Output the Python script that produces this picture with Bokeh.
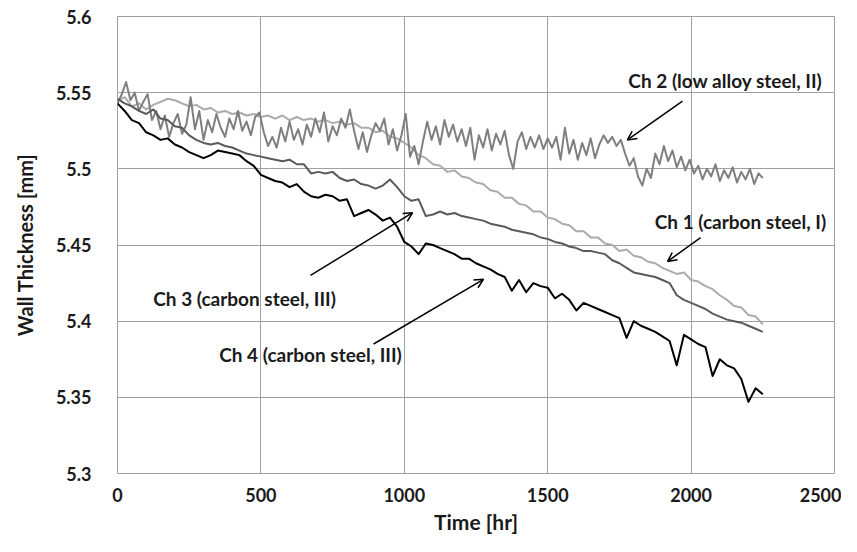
from bokeh.plotting import figure
from bokeh.models import Range1d, FixedTicker, Label, Arrow, OpenHead
from bokeh.embed import file_html
from bokeh.resources import INLINE

# ---------------- data ----------------
time_hr = [0, 25, 50, 75, 100, 125, 150, 175, 200, 225, 250, 275, 300, 325, 350, 375,
           400, 425, 450, 475, 500, 525, 550, 575, 600, 625, 650, 675, 700, 725, 750, 775,
           800, 825, 850, 875, 900, 925, 950, 975, 1000, 1025, 1050, 1075, 1100, 1125, 1150,
           1175, 1200, 1225, 1250, 1275, 1300, 1325, 1350, 1375, 1400, 1425, 1450, 1475,
           1500, 1525, 1550, 1575, 1600, 1625, 1650, 1675, 1700, 1725, 1750, 1775, 1800,
           1825, 1850, 1875, 1900, 1925, 1950, 1975, 2000, 2025, 2050, 2075, 2100, 2125,
           2150, 2175, 2200, 2225, 2250]

ch1 = [5.545, 5.547, 5.541, 5.543, 5.539, 5.542, 5.544, 5.546, 5.545, 5.543, 5.541, 5.542,
       5.539, 5.540, 5.537, 5.538, 5.536, 5.537, 5.535, 5.536, 5.534, 5.535, 5.533, 5.535,
       5.532, 5.534, 5.532, 5.533, 5.531, 5.532, 5.530, 5.531, 5.529, 5.530, 5.527, 5.527,
       5.524, 5.525, 5.521, 5.520, 5.517, 5.514, 5.509, 5.507, 5.503, 5.502, 5.498, 5.499,
       5.495, 5.494, 5.491, 5.490, 5.486, 5.485, 5.481, 5.481, 5.477, 5.476, 5.472, 5.472,
       5.468, 5.467, 5.464, 5.463, 5.459, 5.459, 5.455, 5.455, 5.451, 5.450, 5.446, 5.447,
       5.443, 5.442, 5.439, 5.438, 5.435, 5.433, 5.431, 5.432, 5.427, 5.426, 5.423, 5.421,
       5.417, 5.414, 5.410, 5.409, 5.404, 5.403, 5.398]

# Ch 2 is very noisy: it has its own, denser time base
time_ch2 = [0, 15, 30, 45, 60, 75, 90, 105, 120, 135,
            150, 165, 180, 195, 210, 225, 240, 255, 270, 285,
            300, 315, 330, 345, 360, 375, 390, 405, 420, 435,
            450, 465, 480, 495, 510, 525, 540, 555, 570, 585,
            600, 615, 630, 645, 660, 675, 690, 705, 720, 735,
            750, 765, 780, 795, 810, 825, 840, 855, 870, 885,
            900, 915, 930, 945, 960, 975, 990, 1005, 1020, 1035,
            1050, 1065, 1080, 1095, 1110, 1125, 1140, 1155, 1170, 1185,
            1200, 1215, 1230, 1245, 1260, 1275, 1290, 1305, 1320, 1335,
            1350, 1365, 1380, 1395, 1410, 1425, 1440, 1455, 1470, 1485,
            1500, 1515, 1530, 1545, 1560, 1575, 1590, 1605, 1620, 1635,
            1650, 1665, 1680, 1695, 1710, 1725, 1740, 1755, 1770, 1785,
            1800, 1815, 1830, 1845, 1860, 1875, 1890, 1905, 1920, 1935,
            1950, 1965, 1980, 1995, 2010, 2025, 2040, 2055, 2070, 2085,
            2100, 2115, 2130, 2145, 2160, 2175, 2190, 2205, 2220, 2235,
            2250]

ch2 = [5.543, 5.549, 5.557, 5.545, 5.550, 5.538, 5.544, 5.549, 5.532, 5.538,
       5.526, 5.535, 5.521, 5.530, 5.536, 5.523, 5.529, 5.547, 5.526, 5.538,
       5.519, 5.532, 5.524, 5.536, 5.527, 5.521, 5.533, 5.526, 5.538, 5.525,
       5.531, 5.522, 5.534, 5.537, 5.524, 5.515, 5.521, 5.514, 5.527, 5.518,
       5.531, 5.519, 5.526, 5.516, 5.529, 5.521, 5.533, 5.524, 5.537, 5.518,
       5.528, 5.522, 5.533, 5.527, 5.539, 5.525, 5.513, 5.524, 5.511, 5.522,
       5.530, 5.525, 5.533, 5.516, 5.526, 5.512, 5.522, 5.536, 5.508, 5.515,
       5.503, 5.518, 5.531, 5.519, 5.528, 5.516, 5.532, 5.521, 5.529, 5.518,
       5.526, 5.515, 5.527, 5.506, 5.522, 5.514, 5.526, 5.512, 5.523, 5.516,
       5.525, 5.509, 5.500, 5.518, 5.524, 5.513, 5.521, 5.514, 5.522, 5.513,
       5.520, 5.514, 5.521, 5.506, 5.527, 5.510, 5.519, 5.506, 5.517, 5.509,
       5.520, 5.507, 5.516, 5.522, 5.517, 5.521, 5.515, 5.519, 5.510, 5.502,
       5.507, 5.495, 5.489, 5.500, 5.494, 5.510, 5.503, 5.515, 5.505, 5.512,
       5.501, 5.508, 5.499, 5.506, 5.497, 5.502, 5.493, 5.500, 5.495, 5.503,
       5.492, 5.499, 5.494, 5.501, 5.491, 5.498, 5.493, 5.500, 5.490, 5.497,
       5.494]

ch3 = [5.546, 5.543, 5.541, 5.538, 5.536, 5.539, 5.533, 5.532, 5.528, 5.527, 5.522, 5.519,
       5.517, 5.516, 5.517, 5.515, 5.514, 5.512, 5.510, 5.509, 5.508, 5.507, 5.506, 5.505,
       5.506, 5.503, 5.503, 5.497, 5.498, 5.497, 5.498, 5.494, 5.492, 5.493, 5.490, 5.489,
       5.487, 5.489, 5.493, 5.488, 5.482, 5.479, 5.480, 5.469, 5.470, 5.472, 5.470, 5.471,
       5.469, 5.468, 5.467, 5.466, 5.464, 5.463, 5.462, 5.460, 5.459, 5.458, 5.457, 5.455,
       5.454, 5.452, 5.451, 5.449, 5.448, 5.446, 5.446, 5.445, 5.444, 5.440, 5.438, 5.435,
       5.432, 5.431, 5.430, 5.429, 5.427, 5.425, 5.417, 5.414, 5.412, 5.410, 5.408, 5.405,
       5.403, 5.401, 5.400, 5.399, 5.397, 5.395, 5.393]

ch4 = [5.543, 5.538, 5.532, 5.530, 5.524, 5.522, 5.519, 5.520, 5.516, 5.514, 5.511, 5.509,
       5.507, 5.509, 5.512, 5.511, 5.510, 5.509, 5.505, 5.502, 5.496, 5.494, 5.492, 5.491,
       5.488, 5.490, 5.485, 5.482, 5.481, 5.483, 5.482, 5.479, 5.480, 5.469, 5.471, 5.473,
       5.470, 5.466, 5.468, 5.462, 5.452, 5.449, 5.444, 5.451, 5.450, 5.448, 5.446, 5.444,
       5.441, 5.441, 5.438, 5.436, 5.434, 5.431, 5.429, 5.420, 5.427, 5.419, 5.425, 5.423,
       5.422, 5.415, 5.418, 5.414, 5.407, 5.412, 5.410, 5.408, 5.406, 5.404, 5.402, 5.389,
       5.400, 5.397, 5.395, 5.393, 5.390, 5.387, 5.371, 5.391, 5.388, 5.385, 5.383, 5.364,
       5.375, 5.371, 5.369, 5.362, 5.347, 5.356, 5.352]

series_names = ["Ch 1 (carbon steel, I)", "Ch 2 (low alloy steel, II)",
                "Ch 3 (carbon steel, III)", "Ch 4 (carbon steel, III)"]
series_colors = ["#ababab", "#7f7f7f", "#5a5a5a", "#000000"]

x_ticks = [0, 500, 1000, 1500, 2000, 2500]
x_tick_labels = ["0", "500", "1000", "1500", "2000", "2500"]
y_ticks = [5.3, 5.35, 5.4, 5.45, 5.5, 5.55, 5.6]
y_tick_labels = ["5.3", "5.35", "5.4", "5.45", "5.5", "5.55", "5.6"]

FONT = "Lato"

p = figure(width=841, height=536, output_backend="svg", toolbar_location=None,
           x_range=Range1d(0, 2500), y_range=Range1d(5.3, 5.6),
           min_border_left=117, min_border_top=16, min_border_right=7, min_border_bottom=61)

p.outline_line_color = "#a0a0a0"
p.outline_line_width = 1
p.background_fill_color = "white"
p.border_fill_color = "white"

for ax in (p.xaxis[0], p.yaxis[0]):
    ax.axis_line_color = None
    ax.major_tick_line_color = None
    ax.minor_tick_line_color = None
    ax.major_label_text_font = FONT
    ax.major_label_text_font_style = "bold"
    ax.major_label_text_font_size = "18px"
    ax.major_label_text_color = "#1a1a1a"
    ax.axis_label_text_font = FONT
    ax.axis_label_text_font_style = "bold"
    ax.axis_label_text_color = "#1a1a1a"

p.xaxis.axis_label_text_font_size = "21px"
p.yaxis.axis_label_text_font_size = "20px"
p.xaxis.ticker = FixedTicker(ticks=x_ticks)
p.xaxis.major_label_overrides = {t: l for t, l in zip(x_ticks, x_tick_labels)}
p.yaxis.ticker = FixedTicker(ticks=y_ticks)
p.yaxis.major_label_overrides = {t: l for t, l in zip(y_ticks, y_tick_labels)}
p.xaxis.axis_label = "Time [hr]"
p.yaxis.axis_label = "Wall Thickness [mm]"
p.xaxis.major_label_standoff = 8
p.xaxis.axis_label_standoff = 4
p.yaxis.major_label_standoff = 20
p.yaxis.axis_label_standoff = 16

p.xgrid.ticker = FixedTicker(ticks=x_ticks)
p.ygrid.ticker = FixedTicker(ticks=y_ticks)
p.grid.grid_line_color = "#a0a0a0"
p.grid.grid_line_width = 1

for tt, vals, col in zip([time_hr, time_ch2, time_hr, time_hr], [ch1, ch2, ch3, ch4],
                         series_colors):
    p.line(tt, vals, line_color=col, line_width=2, line_join="round")

# annotations (label position, arrow tail, arrow head) in data units
annots = [
    (series_names[1], 2120, 5.558, (1970, 5.5444), (1778, 5.519)),
    (series_names[0], 2172, 5.4654, (2033, 5.4549), (1918, 5.4392)),
    (series_names[2], 443, 5.415, (673, 5.430), (1029, 5.4712)),
    (series_names[3], 673, 5.3778, (893, 5.385), (1276, 5.4275)),
]
for text, lx, ly, tail, head in annots:
    p.add_layout(Label(x=lx, y=ly, text=text, text_font=FONT, text_font_style="bold",
                       text_font_size="19px", text_color="#1a1a1a",
                       text_align="center", text_baseline="middle"))
    p.add_layout(Arrow(x_start=tail[0], y_start=tail[1], x_end=head[0], y_end=head[1],
                       line_color="black", line_width=1.5,
                       end=OpenHead(size=9, line_color="black", line_width=1.5)))

open("out.html", "w").write(file_html(p, INLINE))
